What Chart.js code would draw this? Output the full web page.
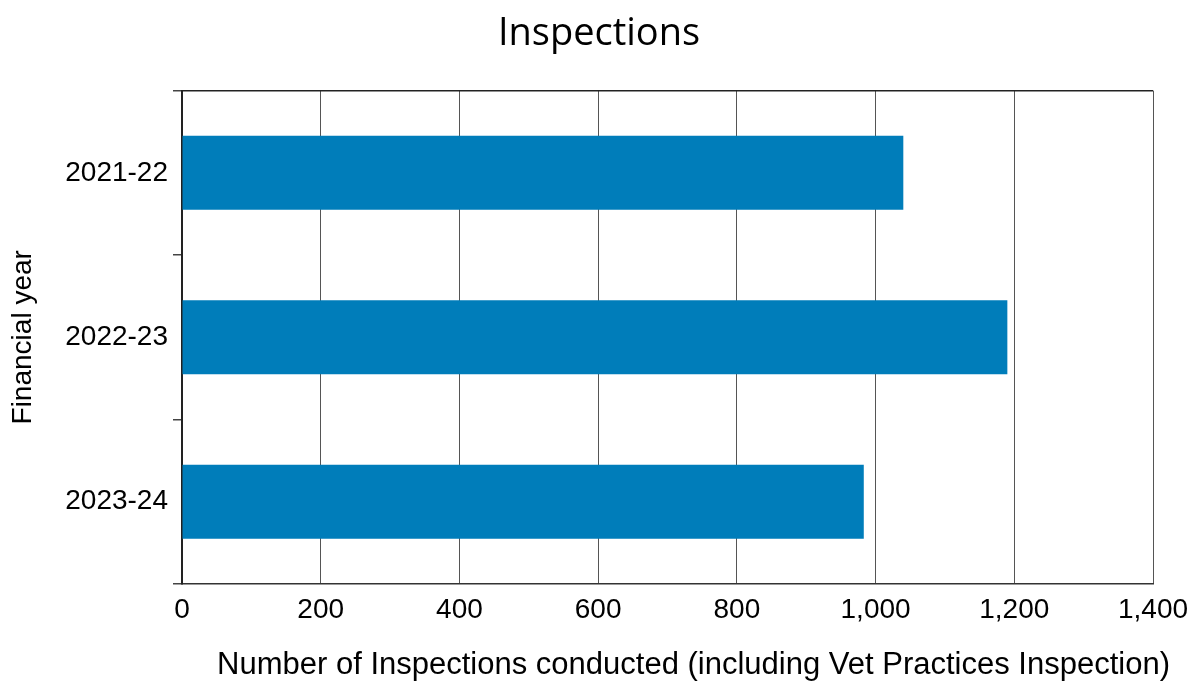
<!DOCTYPE html>
<html>
<head>
<meta charset="utf-8">
<script src="https://cdn.jsdelivr.net/npm/chart.js@4"></script>
<style>
  html, body { margin: 0; padding: 0; background: #fff; }
  #wrap { width: 1198px; height: 681px; }
</style>
</head>
<body>
<div id="wrap"><canvas id="inspectionsChart" width="1198" height="681"></canvas></div>
<script>
// Data
const years = ['2021-22', '2022-23', '2023-24'];
const inspections = [1040, 1190, 983];
const xTicks = [0, 200, 400, 600, 800, 1000, 1200, 1400];
const xTitle = 'Number of Inspections conducted (including Vet Practices Inspection)';

const axisFont = { family: "'Liberation Sans', Arial, sans-serif", size: 28 };

// x axis title sits a little right of the plot centre in the original
const xTitlePlugin = {
    id: 'xTitle',
    afterDraw: function(chart) {
        const ctx = chart.ctx;
        const area = chart.chartArea;
        ctx.save();
        ctx.font = "31px 'Liberation Sans', Arial, sans-serif";
        ctx.fillStyle = '#000';
        ctx.textAlign = 'center';
        ctx.textBaseline = 'middle';
        ctx.fillText(xTitle, (area.left + area.right) / 2 + 26, chart.height - 16);
        ctx.restore();
    }
};

new Chart(document.getElementById('inspectionsChart'), {
    type: 'bar',
    data: {
        labels: years,
        datasets: [{
            label: 'Inspections',
            data: inspections,
            backgroundColor: '#007DBA',
            borderWidth: 0,
            barPercentage: 0.45,
            categoryPercentage: 1
        }]
    },
    plugins: [xTitlePlugin],
    options: {
        indexAxis: 'y',
        responsive: false,
        animation: false,
        layout: { padding: 0 },
        plugins: {
            legend: { display: false },
            tooltip: { enabled: false },
            title: {
                display: true,
                text: 'Inspections',
                color: '#000',
                font: { family: "'Open Sans', sans-serif", size: 38, weight: 'normal' },
                padding: { top: 11, bottom: 34 }
            }
        },
        scales: {
            x: {
                min: 0,
                max: 1400,
                afterBuildTicks: function(scale) {
                    scale.ticks = xTicks.map(v => ({ value: v }));
                },
                afterFit: function(scale) {
                    scale.height = 97;
                    scale.paddingRight = 45;
                },
                grid: { color: '#555', lineWidth: 1, drawTicks: false },
                border: { display: true, color: '#333', width: 1.5 },
                ticks: {
                    color: '#000',
                    font: axisFont,
                    padding: 9,
                    maxRotation: 0,
                    callback: function(value) { return value.toLocaleString('en-US'); }
                }
            },
            y: {
                afterFit: function(scale) { scale.width = 182; },
                grid: {
                    color: function(ctx) {
                        return (ctx.index === 0 || ctx.index === years.length) ? '#222' : 'rgba(0,0,0,0)';
                    },
                    tickColor: '#444',
                    tickLength: 9,
                    lineWidth: 1.5
                },
                border: { display: true, color: '#222', width: 2 },
                ticks: { color: '#000', font: axisFont, padding: 5 },
                title: {
                    display: true,
                    text: 'Financial year',
                    color: '#000',
                    font: axisFont,
                    padding: { top: 6, bottom: 0 }
                }
            }
        }
    }
});
</script>
</body>
</html>
